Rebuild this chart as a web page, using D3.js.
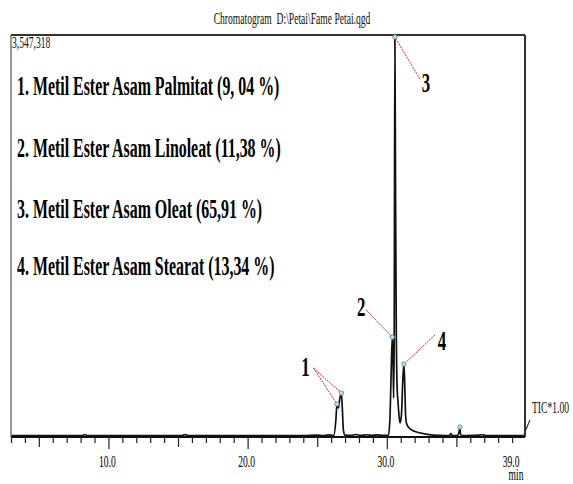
<!DOCTYPE html>
<html lang="en">
<head>
  <title>Chromatogram Fame Petai</title>
  <script type="text/javascript" src="https://cdn.jsdelivr.net/npm/d3@7"></script>
  <style>
    body {
      margin: 0px;
      background: white;
    }
    svg {
      display: block;
    }
  </style>
</head>
<body>
  <script type="text/javascript">
    // Trace (retention time in min, intensity)
    var traceTime = [3.0, 5.0, 8.1, 8.3, 8.5, 11.0, 15.3, 15.5, 15.7, 19.0, 22.0, 24.0, 25.0, 25.4, 25.8, 26.1, 26.2,
      26.34, 26.42, 26.52, 26.63, 26.74, 26.81, 26.88, 26.99,
      27.4, 27.8, 28.1, 28.6, 28.9, 29.3, 29.7,
      30.11, 30.22, 30.31, 30.39, 30.45, 30.49, 30.53, 30.58, 30.63, 30.68, 30.74, 30.81, 30.88, 30.95,
      31.05, 31.15, 31.23, 31.29, 31.35, 31.43, 31.65, 31.86, 32.15, 32.58, 33.15, 33.8,
      34.5, 34.6, 34.7, 35.1, 35.2, 35.25, 35.3, 35.4, 36.3, 36.9, 37.1, 40.0];
    var traceIntensity = [12000, 12000, 12000, 21000, 12000, 13000, 12000, 22000, 12000, 12000, 13000, 12000, 17000, 13000, 18000, 14000, 15000,
      150000, 291000, 256000, 344000, 388000, 238000, 62000, 16000,
      14000, 22000, 14000, 20000, 14000, 19000, 14000,
      15000, 150000, 547000, 882000, 679000, 344000, 856000, 3547318, 2091000, 944000, 441000, 300000, 185000, 124000,
      194000, 503000, 644000, 459000, 194000, 115000, 75000, 57000, 44000, 31000, 19000, 15000,
      13000, 30000, 13000, 14000, 53000, 88000, 20000, 13000, 14000, 20000, 13000, 12000];

    // Identified peaks
    var peakNumbers = ["1", "2", "3", "4"];
    var peakTimes = [26.74, 30.39, 30.58, 31.23];
    var peakHeights = [388000, 882000, 3547318, 644000];
    var compoundNames = ["Metil Ester Asam Palmitat", "Metil Ester Asam Linoleat", "Metil Ester Asam Oleat", "Metil Ester Asam Stearat"];
    var compoundPercents = ["9, 04", "11,38", "65,91", "13,34"];

    // Other marked tops (peak 1 shoulder, small peak near 35 min)
    var extraTimes = [26.42, 35.25];
    var extraHeights = [291000, 88000];

    var xLabelValues = [10, 20, 30, 39];
    var yMax = 3547318;
    var title = "Chromatogram  D:\\Petai\\Fame Petai.qgd";

    var width = 573, height = 484;
    var plotLeft = 11, plotRight = 526, plotTop = 35, plotBottom = 437, frameRight = 525;
    var serif = "'Liberation Serif', 'Times New Roman', serif";
    var squeeze = 0.6;

    var svg = d3.select("body").append("svg")
      .attr("width", width)
      .attr("height", height);

    svg.append("rect")
      .attr("width", width)
      .attr("height", height)
      .attr("fill", "white");

    var x = d3.scaleLinear().domain([3, 40]).range([plotLeft, plotRight]);
    var y = d3.scaleLinear().domain([0, yMax]).range([plotBottom, plotTop]);

    // text looks tall and narrow in the original
    function label(str, px, py, size, weight, anchor, fill) {
      return svg.append("text")
        .attr("transform", "translate(" + px + "," + py + ") scale(" + squeeze + ",1)")
        .attr("text-anchor", anchor || "start")
        .style("font-family", serif)
        .style("font-size", size + "px")
        .style("font-weight", weight || "normal")
        .style("white-space", "pre")
        .style("fill", fill || "#111")
        .text(str);
    }

    label(title, 292, 24, 16, "normal", "middle");

    // plot frame
    svg.append("clipPath").attr("id", "plotclip")
      .append("rect")
      .attr("x", plotLeft).attr("y", plotTop - 1)
      .attr("width", frameRight - plotLeft).attr("height", plotBottom - plotTop + 2);

    // trace
    var points = traceTime.map(function (t, i) { return [t, traceIntensity[i]]; });
    var line = d3.line()
      .x(function (d) { return x(d[0]); })
      .y(function (d) { return y(d[1]); })
      .curve(d3.curveMonotoneX);

    svg.append("path")
      .datum(points)
      .attr("clip-path", "url(#plotclip)")
      .attr("d", line)
      .attr("fill", "none")
      .attr("stroke", "#111")
      .attr("stroke-width", 1.7)
      .attr("stroke-linejoin", "round");

    svg.append("line").attr("x1", plotLeft).attr("x2", plotLeft).attr("y1", plotTop).attr("y2", plotBottom)
      .attr("stroke", "#777").attr("stroke-width", 1.5);
    svg.append("line").attr("x1", plotLeft).attr("x2", frameRight).attr("y1", plotTop).attr("y2", plotTop)
      .attr("stroke", "#333").attr("stroke-width", 2);
    svg.append("line").attr("x1", frameRight).attr("x2", frameRight).attr("y1", plotTop).attr("y2", plotBottom)
      .attr("stroke", "#333").attr("stroke-width", 2);

    // x axis with minute ticks
    var tickValues = d3.range(3, 40);
    var xAxis = d3.axisBottom(x)
      .tickValues(tickValues)
      .tickSize(6)
      .tickFormat("");
    var axisG = svg.append("g")
      .attr("transform", "translate(0," + plotBottom + ")")
      .call(xAxis);
    axisG.select(".domain")
      .attr("d", "M" + plotLeft + ",0H" + frameRight)
      .attr("stroke", "#111")
      .attr("stroke-width", 2.2);
    axisG.selectAll(".tick line")
      .attr("stroke", "#222")
      .attr("stroke-width", 1.2)
      .attr("y2", function (d) { return d % 10 === 0 ? 12 : (d % 5 === 0 ? 10 : 6); });

    xLabelValues.forEach(function (v) {
      label(d3.format(".1f")(v), x(v) - 1, 467, 16, "normal", "middle", "#000");
    });
    label("min", 516, 480, 16, "normal", "middle", "#000");

    label(d3.format(",")(yMax), 12, 48, 16, "normal", "start");

    // TIC tag
    svg.append("line").attr("x1", frameRight - 1).attr("y1", plotBottom - 3).attr("x2", 530).attr("y2", 420)
      .attr("stroke", "#333").attr("stroke-width", 1.2);
    label("TIC*1.00", 532, 413, 16, "normal", "start");

    // legend
    var legendY = [95, 157, 218, 275];
    compoundNames.forEach(function (n, i) {
      label(peakNumbers[i] + ". " + n + " (" + compoundPercents[i] + " %)", 17, legendY[i], 26.5, "bold", "start", "#000");
    });

    // peak markers
    var marks = peakTimes.map(function (t, i) { return [t, peakHeights[i]]; })
      .concat(extraTimes.map(function (t, i) { return [t, extraHeights[i]]; }));
    svg.selectAll("circle.mark")
      .data(marks)
      .enter().append("circle")
      .attr("class", "mark")
      .attr("cx", function (d) { return x(d[0]); })
      .attr("cy", function (d) { return Math.max(y(d[1]), plotTop + 2); })
      .attr("r", 2.2)
      .attr("fill", "#c8dbe8")
      .attr("stroke", "#5a7d99")
      .attr("stroke-width", 0.8);

    // leader lines + numbers: [label dx, label dy, line start dx, line start dy]
    var labelOffsets = [[-36, -17, -28, -25], [-31, -21, -26, -27], [31, 55, 25, 42], [38, -14, 31, -29]];
    peakTimes.forEach(function (t, i) {
      var mx = x(t), my = Math.max(y(peakHeights[i]), plotTop + 2);
      var o = labelOffsets[i];
      var targets = [[mx, my]];
      if (i === 0) targets.push([x(extraTimes[0]), y(extraHeights[0])]);
      targets.forEach(function (p) {
        var sx = mx + o[2], sy = my + o[3];
        var dx = p[0] - sx, dy = p[1] - sy, len = Math.sqrt(dx * dx + dy * dy);
        svg.append("line")
          .attr("x1", sx).attr("y1", sy)
          .attr("x2", p[0] - dx / len * 2.5).attr("y2", p[1] - dy / len * 2.5)
          .attr("stroke", "#e8202a")
          .attr("stroke-width", 1)
          .attr("stroke-dasharray", "2,1");
      });
      label(peakNumbers[i], mx + o[0], my + o[1], 28, "bold", "middle", "#000");
    });
  </script>
</body>
</html>
